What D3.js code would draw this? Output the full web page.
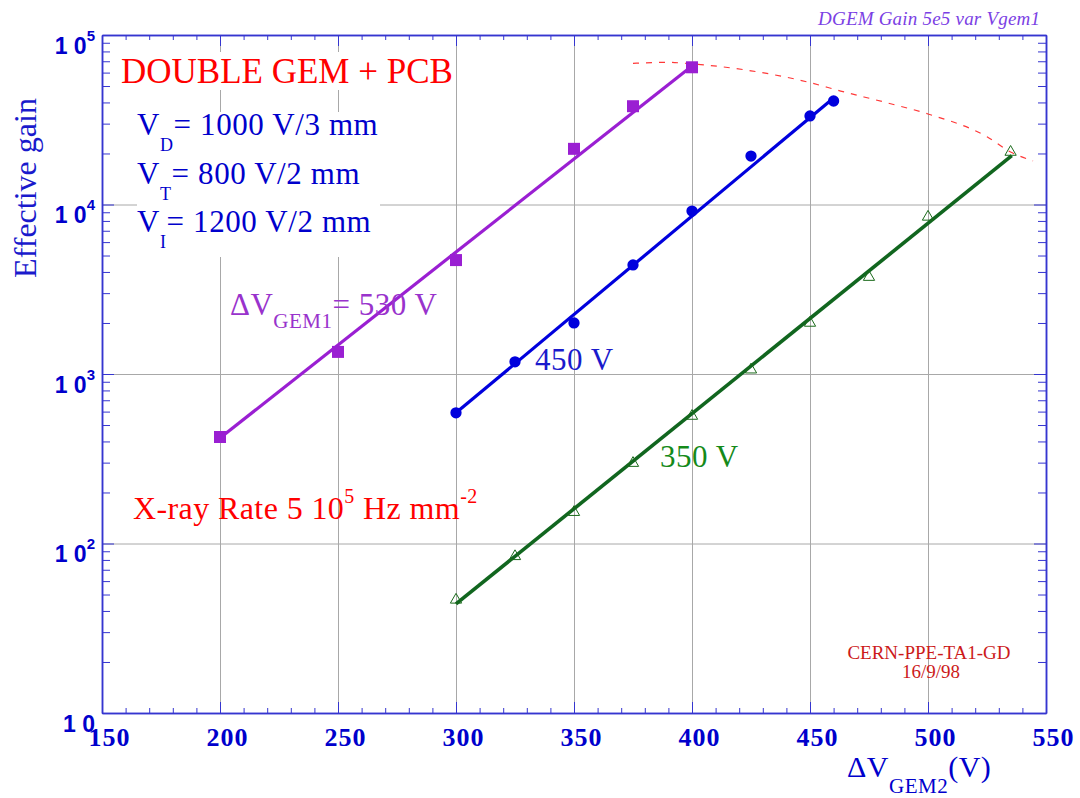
<!DOCTYPE html>
<html>
<head>
	<meta charset="utf-8">
	<title>DGEM Gain</title>
	<script src="https://cdn.jsdelivr.net/npm/d3@7/dist/d3.min.js"></script>
	<style>
		body { margin: 0; background: #fff; }
		svg { display: block; }
	</style>
</head>
<body>
	<div id="chart"></div>

	<script type="text/javascript">
		// measured points, dVGEM1 = 530 V (squares)
		const vgem2_530 = [200, 250, 300, 350, 375, 400];
		const gain_530 = [425, 1350, 4700, 21300, 38000, 64500];
		// dVGEM1 = 450 V (circles)
		const vgem2_450 = [300, 325, 350, 375, 400, 425, 450, 460];
		const gain_450 = [590, 1180, 2000, 4400, 9150, 19300, 33300, 40800];
		// dVGEM1 = 350 V (open triangles)
		const vgem2_350 = [300, 325, 350, 375, 400, 425, 450, 475, 500, 535];
		const gain_350 = [46.5, 84, 153, 298, 565, 1060, 2000, 3730, 8450, 20400];

		// exponential fits, end points
		const fit_530 = [[200, 419], [400, 65600]];
		const fit_450 = [[300, 590], [460, 42500]];
		const fit_350 = [[300, 44], [535.5, 19400]];

		// red dashed limit curve
		const limitV = [375, 383, 389, 402, 425, 449, 463, 483, 500, 525, 535, 544.5];
		const limitGain = [68100, 68700, 69000, 67200, 61500, 52800, 46700, 39700, 34200, 25100, 20400, 18100];

		// ticks
		const xMajor = [150, 200, 250, 300, 350, 400, 450, 500, 550];
		const xGrid = [200, 250, 300, 350, 400, 450, 500];
		const xMinor = d3.range(150, 551, 10);
		const yMajor = [10, 100, 1000, 10000, 100000];
		const yExp = ["", "2", "3", "4", "5"];
		const yGrid = [100, 1000, 10000];
		let yMinor = [];
		for (let p = 1; p < 5; p++) {
			for (let k = 2; k < 10; k++) yMinor.push(k * Math.pow(10, p));
		}

		const W = 1080, H = 798;
		const pL = 102, pR = 1046, pT = 35, pB = 713;
		const axisCol = "#3535d0";
		const serif = "'Liberation Serif', 'Times New Roman', serif";

		let svg = d3.select("#chart").append("svg")
			.attr("width", W)
			.attr("height", H);

		let x = d3.scaleLinear().domain([150, 550]).range([pL, pR]);
		let y = d3.scaleLog().domain([10, 1e5]).range([pB, pT]);

		// grid
		svg.append("g")
			.attr("transform", "translate(0," + pB + ")")
			.call(d3.axisBottom(x).tickValues(xGrid).tickSize(-(pB - pT)).tickFormat(""))
			.call(g => g.select(".domain").remove())
			.selectAll("line").attr("stroke", "#a8a8a8");
		svg.append("g")
			.attr("transform", "translate(" + pL + ",0)")
			.call(d3.axisLeft(y).tickValues(yGrid).tickSize(-(pR - pL)).tickFormat(""))
			.call(g => g.select(".domain").remove())
			.selectAll("line").attr("stroke", "#a8a8a8");

		// white boxes behind the text block (they hide the grid)
		svg.append("rect").attr("x", 110).attr("y", 52).attr("width", 345).attr("height", 38).attr("fill", "#fff");
		svg.append("rect").attr("x", 137).attr("y", 112).attr("width", 243).attr("height", 145).attr("fill", "#fff");

		// frame and ticks
		function ticks(axis, tr) {
			let g = svg.append("g").attr("transform", tr).call(axis);
			g.selectAll("line").attr("stroke", axisCol);
			g.select(".domain").attr("stroke", axisCol).attr("stroke-width", 1.5);
			return g;
		}
		ticks(d3.axisBottom(x).tickValues(xMinor).tickSize(-5).tickSizeOuter(0).tickFormat(""), "translate(0," + pB + ")");
		ticks(d3.axisTop(x).tickValues(xMinor).tickSize(-5).tickSizeOuter(0).tickFormat(""), "translate(0," + pT + ")");
		ticks(d3.axisLeft(y).tickValues(yMinor).tickSize(-8).tickSizeOuter(0).tickFormat(""), "translate(" + pL + ",0)");
		ticks(d3.axisRight(y).tickValues(yMinor).tickSize(-8).tickSizeOuter(0).tickFormat(""), "translate(" + pR + ",0)");
		ticks(d3.axisTop(x).tickValues(xMajor).tickSize(-11).tickSizeOuter(0).tickFormat(""), "translate(0," + pT + ")");
		ticks(d3.axisLeft(y).tickValues(yMajor).tickSize(-12).tickSizeOuter(0).tickFormat(""), "translate(" + pL + ",0)");
		ticks(d3.axisRight(y).tickValues(yMajor).tickSize(-12).tickSizeOuter(0).tickFormat(""), "translate(" + pR + ",0)");

		// bottom axis with labels
		let xa = ticks(d3.axisBottom(x).tickValues(xMajor).tickSize(-11).tickSizeOuter(0).tickPadding(15).tickFormat(d3.format("d")), "translate(0," + pB + ")");
		xa.selectAll("text")
			.attr("dx", 7)
			.attr("fill", "#0000cc")
			.style("font-family", serif)
			.style("font-weight", "bold")
			.style("font-size", "26px")
			.style("letter-spacing", "1px");

		// y labels "1 0^n"
		let yl = svg.append("g").selectAll("text")
			.data(yMajor)
			.enter().append("text")
			.attr("x", 95)
			.attr("y", d => y(d) + 18.5)
			.attr("text-anchor", "end")
			.attr("fill", "#0000cc")
			.style("font-family", "'Liberation Sans', Arial, sans-serif")
			.style("font-weight", "bold")
			.style("font-size", "23px");
		yl.append("tspan").text("1 0");
		yl.append("tspan")
			.attr("dy", -13)
			.style("font-size", "15px")
			.text((d, i) => yExp[i]);

		// fitted lines
		const colors = { p: "#9a1fd2", b: "#0000dd", g: "#11661f" };
		let fitLine = d3.line().x(d => x(d[0])).y(d => y(d[1]));
		svg.append("path").datum(fit_530).attr("d", fitLine)
			.attr("fill", "none").attr("stroke", colors.p).attr("stroke-width", 3.2);
		svg.append("path").datum(fit_450).attr("d", fitLine)
			.attr("fill", "none").attr("stroke", colors.b).attr("stroke-width", 3.2);
		svg.append("path").datum(fit_350).attr("d", fitLine)
			.attr("fill", "none").attr("stroke", colors.g).attr("stroke-width", 3.6);

		// dashed curve
		let limitLine = d3.line()
			.x((d, i) => x(limitV[i]))
			.y(d => y(d))
			.curve(d3.curveMonotoneX);
		svg.append("path").datum(limitGain).attr("d", limitLine)
			.attr("fill", "none")
			.attr("stroke", "#ff3838")
			.attr("stroke-width", 1.2)
			.attr("stroke-dasharray", "6,7");

		// markers
		svg.append("g").selectAll("path")
			.data(vgem2_530)
			.enter().append("path")
			.attr("d", d3.symbol().type(d3.symbolSquare).size(144))
			.attr("transform", (d, i) => "translate(" + x(d) + "," + y(gain_530[i]) + ")")
			.attr("fill", colors.p);
		svg.append("g").selectAll("path")
			.data(vgem2_450)
			.enter().append("path")
			.attr("d", d3.symbol().type(d3.symbolCircle).size(100))
			.attr("transform", (d, i) => "translate(" + x(d) + "," + y(gain_450[i]) + ")")
			.attr("fill", colors.b);
		svg.append("g").selectAll("path")
			.data(vgem2_350)
			.enter().append("path")
			.attr("d", d3.symbol().type(d3.symbolTriangle).size(55))
			.attr("transform", (d, i) => "translate(" + x(d) + "," + y(gain_350[i]) + ")")
			.attr("fill", "none")
			.attr("stroke", "#1a6a1a")
			.attr("stroke-width", 1);

		// texts
		function label(tx, ty, size, col) {
			return svg.append("text")
				.attr("x", tx).attr("y", ty)
				.attr("fill", col)
				.style("font-family", serif)
				.style("font-size", size + "px");
		}
		function part(t, str, size, dy) {
			t.append("tspan").attr("dy", dy).style("font-size", size + "px").text(str);
		}

		label(121, 83, 35, "#ff0000").text("DOUBLE GEM + PCB");

		let vt = [["D", "= 1000 V/3 mm", 135], ["T", "= 800 V/2 mm", 184], ["I", "= 1200 V/2 mm", 232]];
		vt.forEach(function(r) {
			let t = label(137, r[2], 31, "#0000cc").style("letter-spacing", "0.6px");
			part(t, "V", 31, 0);
			part(t, r[0], 18, 16);
			part(t, r[1], 31, -16);
		});

		let tg1 = label(230, 315, 31, "#9933cc").style("letter-spacing", "0.5px");
		part(tg1, "\u0394V", 31, 0);
		part(tg1, "GEM1", 21, 13);
		part(tg1, "= 530 V", 31, -13);

		label(535, 370, 31, "#1a1acc").style("letter-spacing", "0.5px").text("450 V");
		label(660, 467, 31, "#158a1a").style("letter-spacing", "0.5px").text("350 V");

		let tx = label(133, 519, 32, "#ff0000").style("letter-spacing", "0.4px");
		part(tx, "X-ray Rate 5 10", 32, 0);
		part(tx, "5", 20, -16);
		part(tx, " Hz mm", 32, 16);
		part(tx, "-2", 20, -16);

		label(929, 659, 19, "#cc1a1a").attr("text-anchor", "middle").text("CERN-PPE-TA1-GD");
		label(931, 678, 19, "#cc1a1a").attr("text-anchor", "middle").text("16/9/98");

		label(818, 25, 19, "#7b3fe4")
			.style("font-style", "italic")
			.attr("textLength", 222)
			.attr("lengthAdjust", "spacing")
			.text("DGEM Gain 5e5 var Vgem1");

		// axis titles
		let xt = label(847, 777, 30, "#0000cc").style("letter-spacing", "0.5px");
		part(xt, "\u0394V", 30, 0);
		part(xt, "GEM2", 21, 16);
		part(xt, "(V)", 30, -16);

		svg.append("text")
			.attr("transform", "translate(35.5,188) rotate(-90)")
			.attr("text-anchor", "middle")
			.attr("fill", "#1a1acc")
			.style("font-family", serif)
			.style("font-size", "32px")
			.text("Effective gain");
	</script>
</body>
</html>
